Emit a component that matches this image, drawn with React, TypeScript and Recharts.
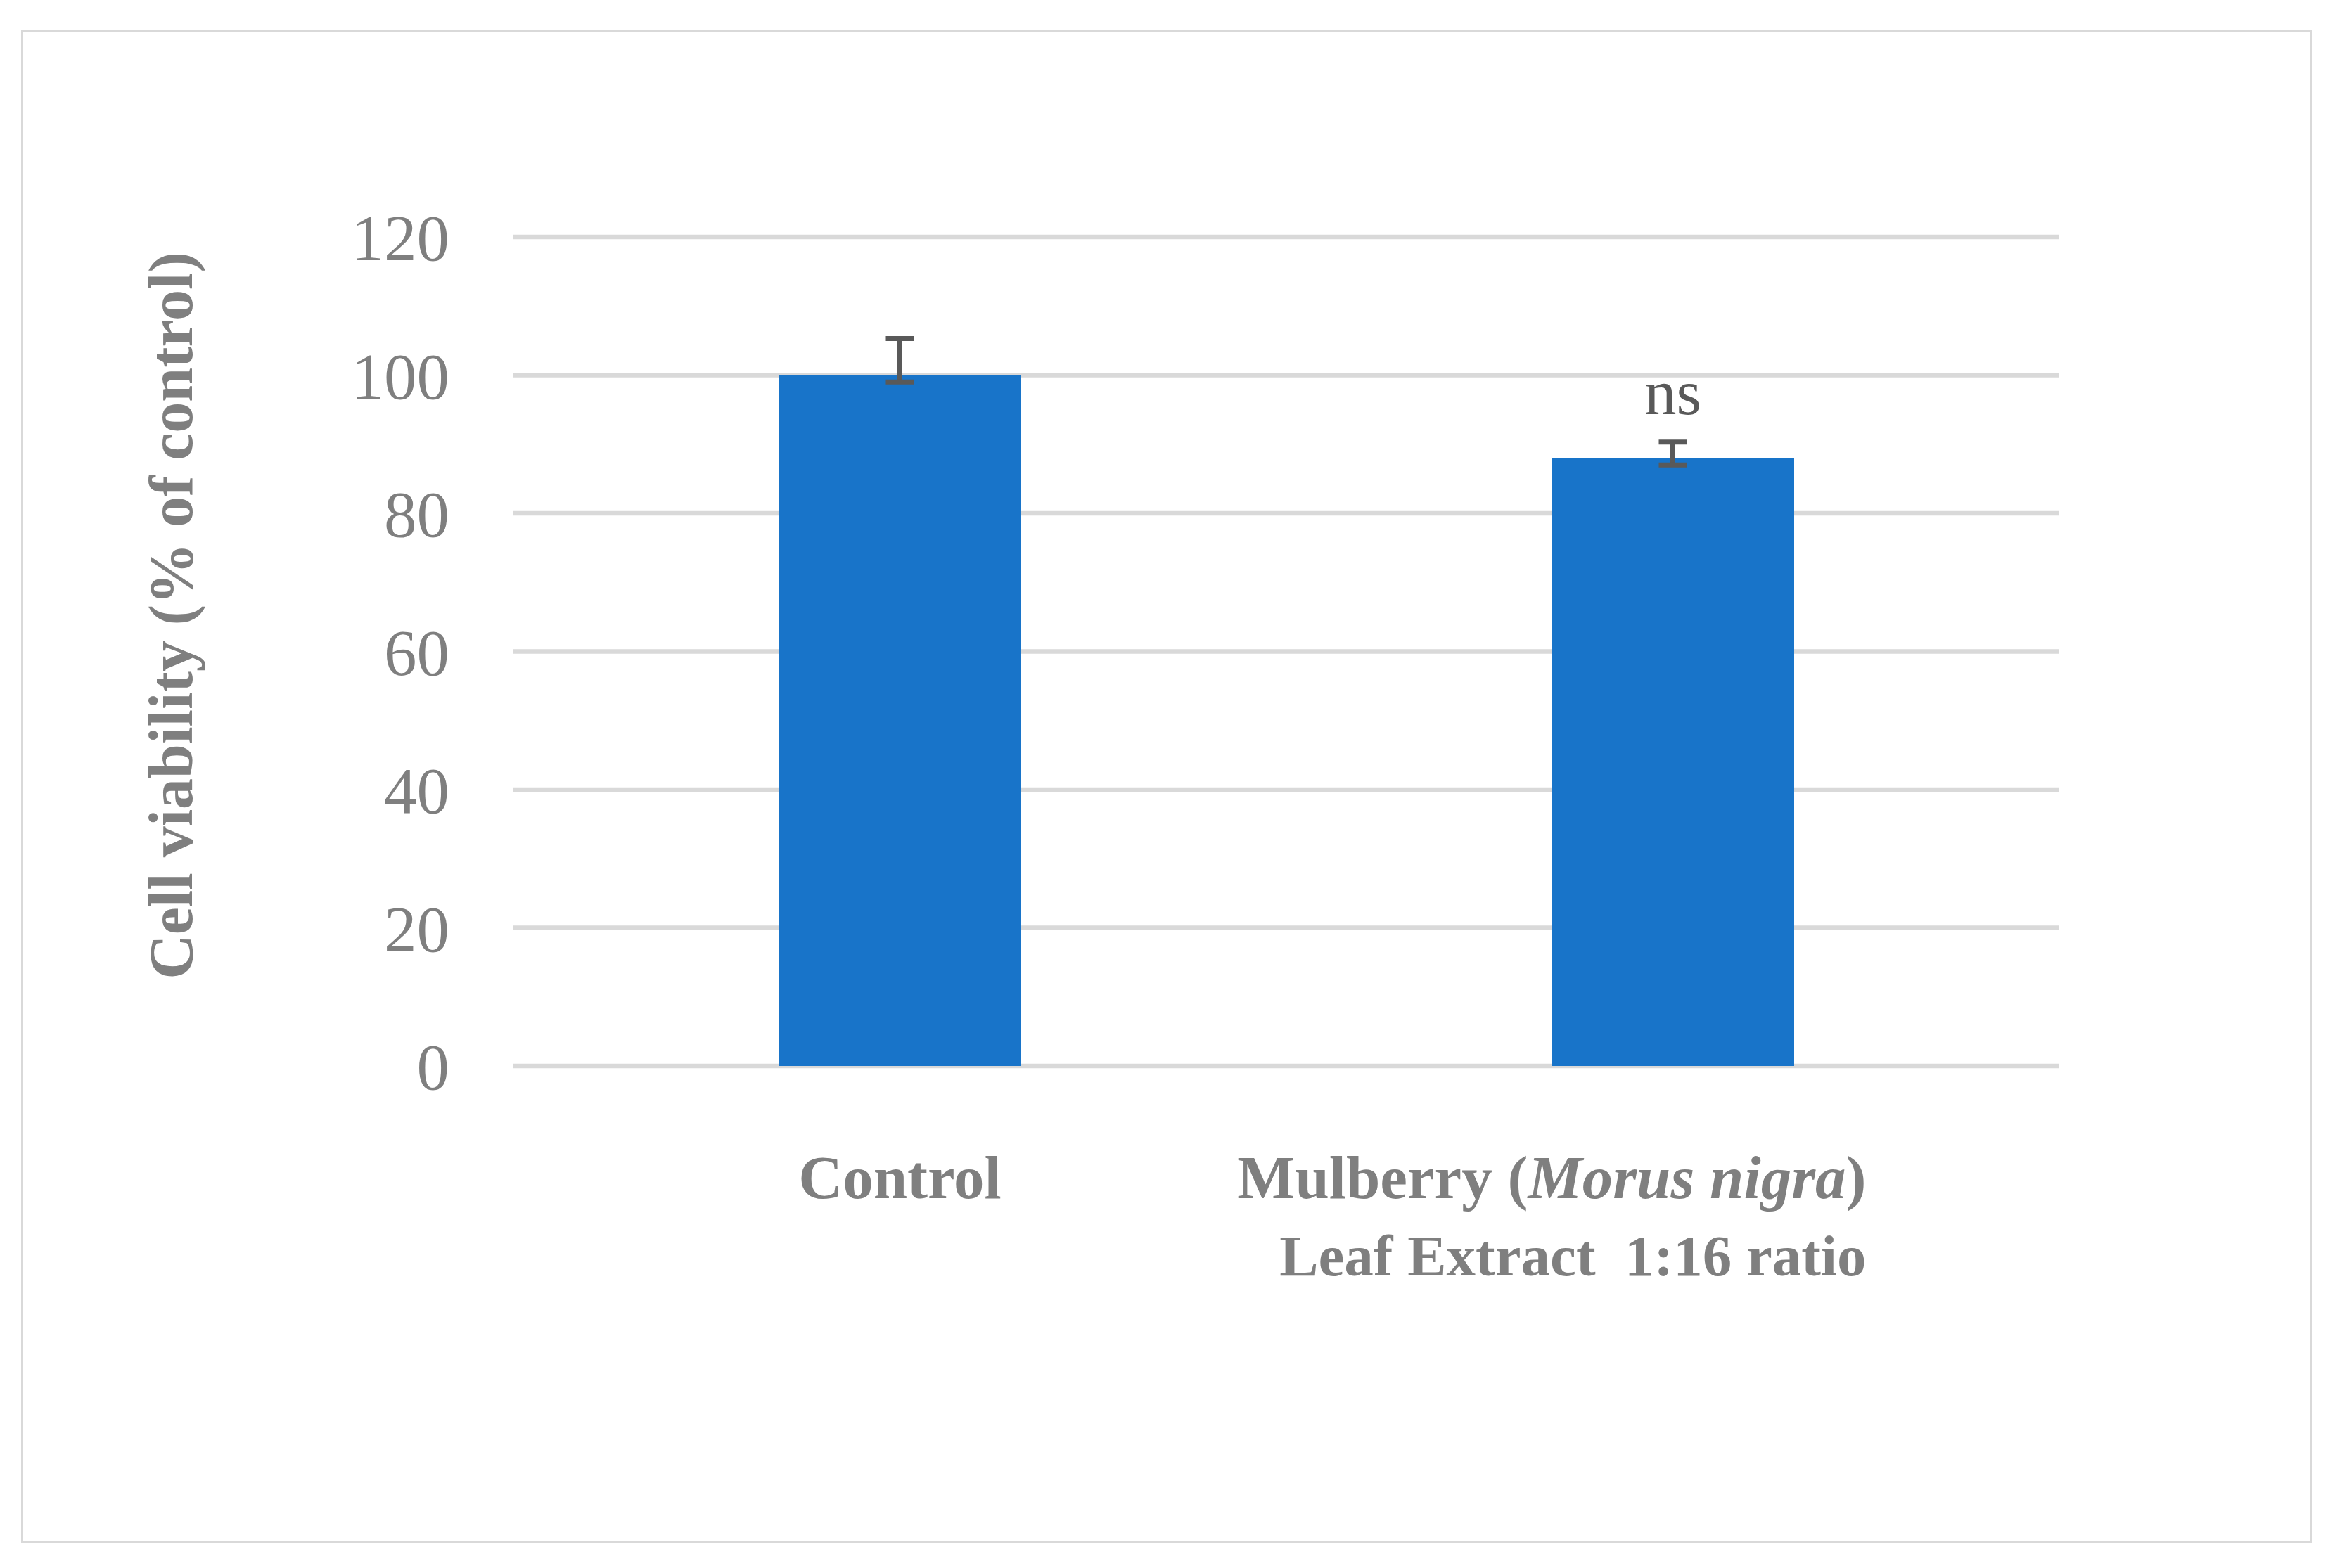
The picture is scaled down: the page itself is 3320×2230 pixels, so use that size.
import { BarChart, Bar, XAxis, YAxis, CartesianGrid, ErrorBar, LabelList } from 'recharts';

const categories = ['Control', 'Mulberry'];
const viability = [100, 88];
// asymmetric error [below, above]
const errLow = [1.0, 1.0];
const errHigh = [5.3, 2.3];
const notes = ['', 'ns'];
const yTicks = [0, 20, 40, 60, 80, 100, 120];

const chartData = categories.map((name, i) => ({
  name,
  value: viability[i],
  err: [errLow[i], errHigh[i]],
  note: notes[i],
}));

const FONT = '"Liberation Serif", "Times New Roman", serif';
const GREY = '#7f7f7f';

function XTick(props: any) {
  const { x, y, payload } = props;
  if (payload.value === 'Control') {
    return (
      <text x={x} y={y + 188} textAnchor="middle" fontFamily={FONT} fontSize={87} fontWeight="bold" fill={GREY}>
        Control
      </text>
    );
  }
  return (
    <text
      x={x + 275}
      y={y + 188}
      textAnchor="end"
      fontFamily={FONT}
      fontSize={87}
      fontWeight="bold"
      fill={GREY}
      style={{ whiteSpace: 'pre' }}
    >
      <tspan x={x + 275}>
        Mulberry (<tspan fontStyle="italic">Morus nigra</tspan>)
      </tspan>
      <tspan x={x + 275} dy={110} fontSize={83}>
        {'Leaf Extract  1:16 ratio'}
      </tspan>
    </text>
  );
}

function NoteLabel(props: any) {
  const { x, y, width, value } = props;
  if (!value) return null;
  return (
    <text x={x + width / 2} y={y - 62} textAnchor="middle" fontFamily={FONT} fontSize={91} fill="#595959">
      {value}
    </text>
  );
}

function YTitle(props: any) {
  const vb = props.viewBox;
  const cx = vb.x - 287;
  const cy = vb.y + vb.height / 2 - 51;
  return (
    <text
      x={cx}
      y={cy}
      transform={`rotate(-90, ${cx}, ${cy})`}
      textAnchor="middle"
      dominantBaseline="central"
      fontFamily={FONT}
      fontSize={88}
      fontWeight="bold"
      fill={GREY}
    >
      Cell viability (% of control)
    </text>
  );
}

export default function App() {
  return (
    <div style={{ position: 'absolute', left: 0, top: 0, width: 3320, height: 2230, background: '#fff' }}>
      <div
        style={{
          position: 'absolute',
          left: 30,
          top: 43,
          width: 3252,
          height: 2146,
          border: '3px solid #d9d9d9',
        }}
      />
      <BarChart
        width={3320}
        height={2230}
        data={chartData}
        margin={{ top: 337, right: 392, left: 530, bottom: 314 }}
        style={{ position: 'absolute', left: 0, top: 0 }}
      >
        <CartesianGrid vertical={false} stroke="#d9d9d9" strokeWidth={6.5} />
        <XAxis
          dataKey="name"
          height={400}
          axisLine={false}
          tickLine={false}
          tickSize={0}
          tickMargin={0}
          interval={0}
          tick={<XTick />}
        />
        <YAxis
          width={200}
          domain={[0, 120]}
          ticks={yTicks}
          axisLine={false}
          tickLine={false}
          tickSize={0}
          tickMargin={91}
          tick={{ fontFamily: FONT, fontSize: 93, fill: GREY }}
          label={<YTitle />}
        />
        <Bar dataKey="value" fill="#1874c9" barSize={345} isAnimationActive={false}>
          <ErrorBar dataKey="err" width={20} strokeWidth={7} stroke="#595959" />
          <LabelList dataKey="note" content={<NoteLabel />} />
        </Bar>
      </BarChart>
    </div>
  );
}
